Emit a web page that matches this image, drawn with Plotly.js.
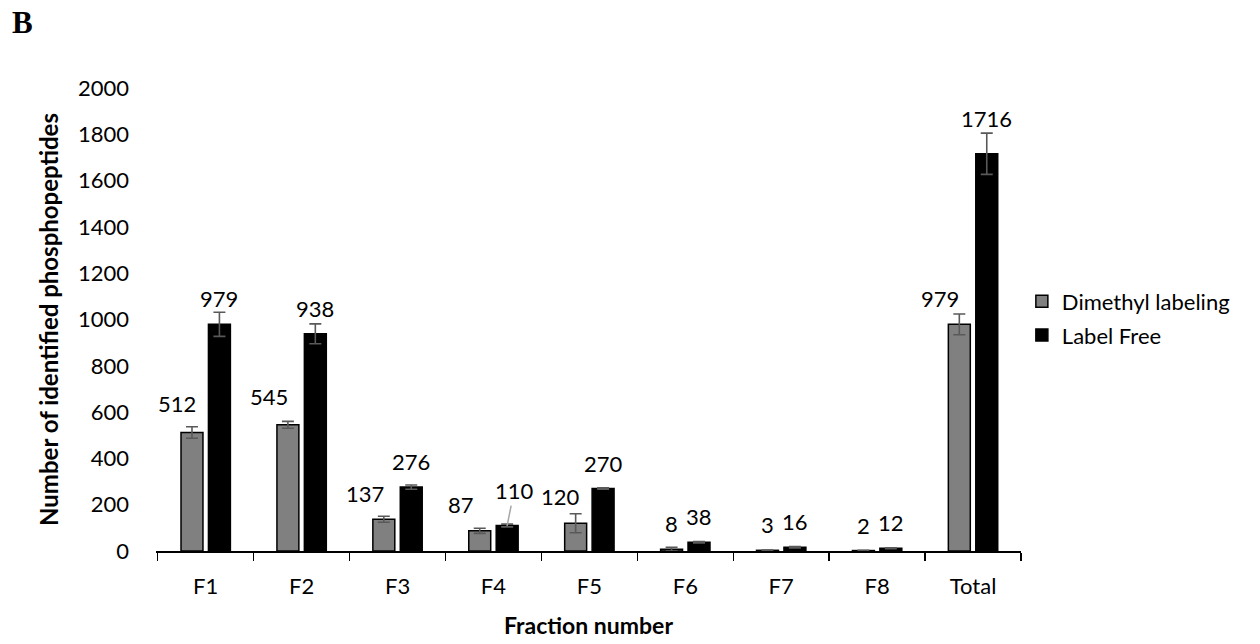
<!DOCTYPE html>
<html>
<head>
<meta charset="utf-8">
<script src="https://cdn.plot.ly/plotly-3.0.1.min.js"></script>
<style>html,body{margin:0;padding:0;background:#fff;}#chart{width:1260px;height:644px;}</style>
</head>
<body>
<div id="chart"></div>
<script>
// ---- data ----
const categories = ['F1', 'F2', 'F3', 'F4', 'F5', 'F6', 'F7', 'F8', 'Total'];
const dimethylLabeling = [512, 545, 137, 87, 120, 8, 3, 2, 979];
const labelFree = [979, 938, 276, 110, 270, 38, 16, 12, 1716];
const dimethylErr = [25, 15, 13, 11, 41, 8, 1, 1, 45];
const labelFreeErr = [52, 43, 9, 6, 3, 3, 3, 2, 89];
const seriesNames = ['Dimethyl labeling', 'Label Free'];
const yTickValues = [0, 200, 400, 600, 800, 1000, 1200, 1400, 1600, 1800, 2000];

// ---- label placement (style, pixel offsets from bar top) ----
const barOffset = 13.7;
const dimLabelDx = [-15, -19, -19, -19, -15, 0, 0, 0, -19];
const dimLabelDy = [29, 28, 26, 26, 26.5, 26, 26, 25.5, 26];
const lfLabelDx = [0, 0, 0, 7, 0, 0, 0, 0, 0];
const lfLabelDy = [26, 25.6, 25.4, 35, 25, 25.5, 25.6, 25.5, 35];
const leaderIndex = 3; // "110" label has a leader line

const FONT = 'Lato, "Open Sans", sans-serif';

const traces = [
  {
    type: 'bar', name: seriesNames[0], x: categories, y: dimethylLabeling, legendgroup: 'a',
    marker: {color: '#808080', line: {color: '#000000', width: 1.5}},
    error_y: {type: 'data', array: dimethylErr, visible: true, color: '#595959', thickness: 1.6, width: 6},
    hoverinfo: 'x+y'
  },
  {
    type: 'bar', name: seriesNames[1], x: categories, y: labelFree, legendgroup: 'b',
    marker: {color: '#000000', line: {color: '#000000', width: 1.5}},
    error_y: {type: 'data', array: labelFreeErr, visible: true, color: '#595959', thickness: 1.6, width: 6},
    hoverinfo: 'x+y'
  }
];

const annotations = [];
categories.forEach((c, i) => {
  annotations.push({
    x: c, y: dimethylLabeling[i], xref: 'x', yref: 'y',
    text: String(dimethylLabeling[i]), showarrow: false,
    xshift: -barOffset + dimLabelDx[i], yshift: dimLabelDy[i],
    xanchor: 'center', yanchor: 'middle',
    font: {family: FONT, size: 22, color: '#000'}
  });
  if (i === leaderIndex) {
    annotations.push({
      x: c, y: labelFree[i], xref: 'x', yref: 'y',
      text: String(labelFree[i]), showarrow: true, arrowhead: 0,
      arrowcolor: '#a6a6a6', arrowwidth: 1.5,
      ax: lfLabelDx[i], ay: -lfLabelDy[i],
      xshift: barOffset, yshift: 0,
      font: {family: FONT, size: 22, color: '#000'}
    });
  } else {
    annotations.push({
      x: c, y: labelFree[i], xref: 'x', yref: 'y',
      text: String(labelFree[i]), showarrow: false,
      xshift: barOffset + lfLabelDx[i], yshift: lfLabelDy[i],
      xanchor: 'center', yanchor: 'middle',
      font: {family: FONT, size: 22, color: '#000'}
    });
  }
});
annotations.push({
  xref: 'paper', yref: 'paper', x: -0.1688, y: 1.1425, xanchor: 'left', yanchor: 'middle',
  text: '<b>B</b>', showarrow: false,
  font: {family: '"Liberation Serif", "DejaVu Serif", serif', size: 31, color: '#000'}
});

const layout = {
  width: 1260, height: 644,
  paper_bgcolor: '#ffffff', plot_bgcolor: '#ffffff',
  margin: {l: 156, r: 239, t: 88, b: 93},
  font: {family: FONT, size: 22, color: '#000'},
  barmode: 'group', bargap: 0.428, bargroupgap: 0.2,
  showlegend: true,
  legend: {
    x: 1.001, y: 0.502, xanchor: 'left', yanchor: 'middle',
    font: {family: FONT, size: 22, color: '#000'},
    bgcolor: 'rgba(0,0,0,0)', tracegroupgap: 2, itemwidth: 30
  },
  xaxis: {
    type: 'category',
    showline: true, linecolor: '#000000', linewidth: 1.5,
    ticks: 'outside', tickson: 'boundaries', ticklen: 8, tickcolor: '#000000', tickwidth: 1.5,
    tickfont: {family: FONT, size: 22, color: '#000'},
    ticklabelstandoff: 15,
    showgrid: false, zeroline: false,
    title: {text: '<b>Fraction number</b>', font: {family: FONT, size: 23, color: '#000'}, standoff: 20}
  },
  yaxis: {
    range: [0, 2000], tickvals: yTickValues, ticktext: yTickValues.map(String),
    showline: false, showgrid: false, zeroline: false, ticks: '',
    tickfont: {family: FONT, size: 22, color: '#000'},
    ticklabelstandoff: 26,
    title: {text: '<b>Number of identified phosphopeptides</b>', font: {family: FONT, size: 24, color: '#000'}, standoff: 12}
  },
  annotations: annotations
};

Plotly.newPlot('chart', traces, layout, {displayModeBar: false, staticPlot: true});
</script>
</body>
</html>
